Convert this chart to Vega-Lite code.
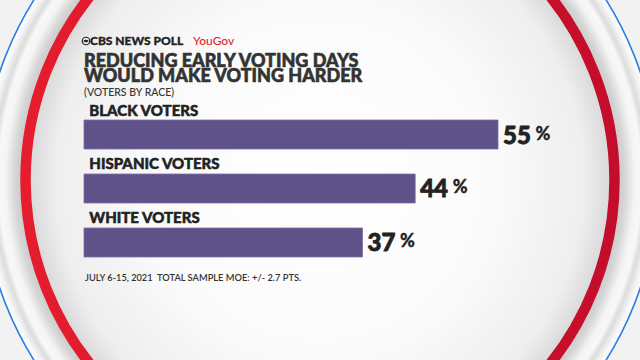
{
  "$schema": "https://vega.github.io/schema/vega-lite/v6.json",
  "width": 414,
  "height": 156,
  "autosize": {"type": "none"},
  "padding": {"left": 84, "top": 101, "right": 142, "bottom": 103},
  "background": "#f2f2f2",
  "config": {"view": {"stroke": null}, "font": "Lato"},
  "datasets": {
    "races": [
      {"group": "BLACK VOTERS", "pct": 55},
      {"group": "HISPANIC VOTERS", "pct": 44},
      {"group": "WHITE VOTERS", "pct": 37}
    ],
    "one": [{}]
  },
  "layer": [
    {
      "data": {"name": "one"},
      "mark": {
        "type": "point", "shape": "circle", "filled": true, "opacity": 1,
        "x": 236, "y": 79, "size": 456976,
        "fill": {"gradient": "radial", "x1": 0.5, "y1": 0.5, "x2": 0.5, "y2": 0.5, "r1": 0, "r2": 0.5,
          "stops": [
            {"offset": 0, "color": "#c8c8c8"},
            {"offset": 0.88, "color": "#c8c8c8"},
            {"offset": 0.905, "color": "#d8d8d8"},
            {"offset": 0.93, "color": "#f4f4f4"},
            {"offset": 0.95, "color": "#f8f8f8"},
            {"offset": 0.965, "color": "#dcdcdc"},
            {"offset": 0.985, "color": "#f5f5f5"},
            {"offset": 1, "color": "#ffffff"}
          ]},
        "stroke": "#2f7fe0", "strokeWidth": 1.6
      },
      "encoding": {}
    },
    {
      "data": {"name": "one"},
      "mark": {
        "type": "point", "shape": "circle", "filled": true, "opacity": 1,
        "x": 236, "y": 79, "size": 346921,
        "fill": {"gradient": "radial", "x1": 0.5, "y1": 0.5, "x2": 0.5, "y2": 0.5, "r1": 0, "r2": 0.5,
          "stops": [
            {"offset": 0, "color": "#ffffff"},
            {"offset": 0.6, "color": "#fafafa"},
            {"offset": 0.9, "color": "#eeeeee"},
            {"offset": 1, "color": "#d6d6d6"}
          ]},
        "stroke": {"gradient": "linear", "x1": 0, "y1": 0.5, "x2": 1, "y2": 0.5,
          "stops": [
            {"offset": 0, "color": "#e51d2e"},
            {"offset": 1, "color": "#c40d2b"}
          ]},
        "strokeWidth": 10.5
      },
      "encoding": {}
    },
    {
      "data": {"name": "one"},
      "mark": {"type": "point", "shape": "circle", "filled": false, "opacity": 1, "x": 2, "y": -60, "size": 56, "stroke": "#222222", "strokeWidth": 1.2},
      "encoding": {}
    },
    {
      "data": {"name": "one"},
      "mark": {"type": "point", "shape": "M -1 0 Q 0 -0.9 1 0 Q 0 0.9 -1 0 Z", "filled": true, "opacity": 1, "x": 2, "y": -60, "size": 30, "color": "#222222"},
      "encoding": {}
    },
    {
      "data": {"name": "one"},
      "mark": {"type": "text", "text": "CBS NEWS POLL", "x": 6, "y": -56, "align": "left", "baseline": "alphabetic", "fontSize": 12, "fontWeight": 900, "color": "#222222", "letterSpacing": 0.2, "stroke": "#222222", "strokeWidth": 0.3},
      "encoding": {}
    },
    {
      "data": {"name": "one"},
      "mark": {"type": "text", "text": "YouGov", "x": 109, "y": -56, "align": "left", "baseline": "alphabetic", "fontSize": 12, "fontWeight": 500, "color": "#e8272f", "letterSpacing": -0.3},
      "encoding": {}
    },
    {
      "data": {"name": "one"},
      "mark": {"type": "rule", "x": 0, "x2": 469, "y": -52, "stroke": "#444444", "strokeWidth": 1},
      "encoding": {}
    },
    {
      "data": {"name": "one"},
      "mark": {"type": "text", "text": ["REDUCING EARLY VOTING DAYS", "WOULD MAKE VOTING HARDER"], "lineHeight": 14.4, "x": 0, "y": -33.7, "align": "left", "baseline": "alphabetic", "fontSize": 18, "fontWeight": 900, "color": "#333333", "letterSpacing": 0.4, "stroke": "#333333", "strokeWidth": 0.6},
      "encoding": {}
    },
    {
      "data": {"name": "one"},
      "mark": {"type": "text", "text": "(VOTERS BY RACE)", "x": 0, "y": -4.8, "align": "left", "baseline": "alphabetic", "fontSize": 10.5, "fontWeight": 500, "color": "#333333"},
      "encoding": {}
    },
    {
      "data": {"name": "one"},
      "mark": {"type": "text", "text": "JULY 6-15, 2021", "x": 1, "y": 180, "align": "left", "baseline": "alphabetic", "fontSize": 9.2, "fontWeight": 600, "color": "#333333", "letterSpacing": -0.6},
      "encoding": {}
    },
    {
      "data": {"name": "one"},
      "mark": {"type": "rule", "x": 69, "y": 170, "y2": 183, "stroke": "#b0b0b0", "strokeWidth": 1},
      "encoding": {}
    },
    {
      "data": {"name": "one"},
      "mark": {"type": "text", "text": "TOTAL SAMPLE MOE: +/- 2.7 PTS.", "x": 73, "y": 180, "align": "left", "baseline": "alphabetic", "fontSize": 9.3, "fontWeight": 600, "color": "#333333", "letterSpacing": -0.5},
      "encoding": {}
    },
    {
      "data": {"name": "races"},
      "mark": {"type": "bar", "height": 29, "yOffset": 9.5, "color": "#5f5289", "stroke": "#7b70a3", "strokeWidth": 0.8},
      "encoding": {
        "x": {"field": "pct", "type": "quantitative", "scale": {"domain": [0, 55], "nice": false}, "axis": null},
        "y": {"field": "group", "type": "nominal", "sort": null, "scale": {"paddingInner": 0.111, "paddingOuter": 0}, "axis": null}
      }
    },
    {
      "data": {"name": "races"},
      "mark": {"type": "text", "align": "left", "baseline": "alphabetic", "dx": 5.3, "dy": 14.5, "fontSize": 15, "fontWeight": 900, "color": "#222222", "letterSpacing": 1.0, "stroke": "#222222", "strokeWidth": 0.5},
      "encoding": {
        "x": {"datum": 0},
        "y": {"field": "group", "type": "nominal", "sort": null, "bandPosition": 0},
        "text": {"field": "group"}
      }
    },
    {
      "data": {"name": "races"},
      "mark": {"type": "text", "align": "left", "baseline": "alphabetic", "dx": 5, "dy": 42.5, "fontSize": 24, "fontWeight": 900, "color": "#222222", "letterSpacing": 0.3, "stroke": "#222222", "strokeWidth": 0.8},
      "encoding": {
        "x": {"field": "pct", "type": "quantitative"},
        "y": {"field": "group", "type": "nominal", "sort": null, "bandPosition": 0},
        "text": {"field": "pct"}
      }
    },
    {
      "data": {"name": "races"},
      "mark": {"type": "text", "text": "%", "align": "left", "baseline": "alphabetic", "dx": 37.5, "dy": 38.5, "fontSize": 18, "fontWeight": 900, "color": "#222222", "stroke": "#222222", "strokeWidth": 0.3},
      "encoding": {
        "x": {"field": "pct", "type": "quantitative"},
        "y": {"field": "group", "type": "nominal", "sort": null, "bandPosition": 0}
      }
    }
  ]
}
